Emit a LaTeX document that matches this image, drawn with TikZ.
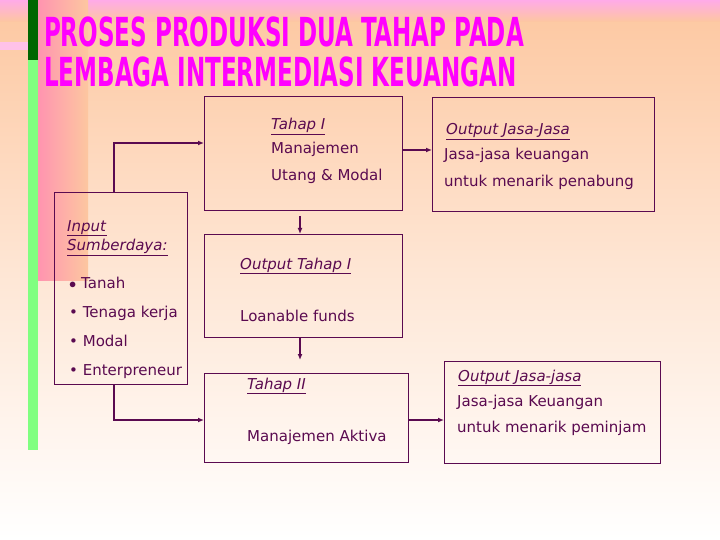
\documentclass[tikz,border=0pt]{standalone}
\usepackage{fontspec}
\setmainfont{DejaVu Sans}
\newfontfamily\titlefont{DejaVu Sans Condensed}
\usetikzlibrary{arrows.meta}
\definecolor{ink}{HTML}{5A0A50}
\definecolor{peach}{HTML}{FDC7A0}
\definecolor{tmag}{HTML}{FF00FF}
\tikzset{
  box/.style={draw=ink,line width=0.8pt},
  conn/.style={draw=ink,line width=1.4pt,-{Latex[length=6pt,width=5pt]}},
  txt/.style={anchor=base west,text=ink,font=\fontsize{15}{17}\selectfont,inner sep=0pt},
  ttl/.style={anchor=base west,text=tmag,inner sep=0pt,xscale=0.64,font=\titlefont\bfseries\fontsize{40}{44}\selectfont},
}
\newcommand{\ul}[1]{\underline{\textit{#1}}}
\begin{document}
\begin{tikzpicture}[x=1pt,y=-1pt]
\useasboundingbox (0,0) rectangle (720,540);
\shade[top color=peach,bottom color=white,middle color=peach!45] (0,0) rectangle (720,540);
\shade[top color=pink!60!magenta!60,bottom color=peach] (0,0) rectangle (720,22);
\fill[pink!70!magenta!50] (0,42) rectangle (45,50);
\shade[left color=magenta!50!orange!60,right color=peach] (30,0) rectangle (88,280);
\fill[green!40!black] (28,0) rectangle (38,60);
\fill[green!50!white] (28,60) rectangle (38,450);
% title
\node[ttl] (t1) at (44,47) {PROSES PRODUKSI DUA TAHAP PADA};
\node[ttl] (t2) at (44,87) {LEMBAGA INTERMEDIASI KEUANGAN};
% boxes
\node[box,minimum width=198pt,minimum height=114pt,anchor=north west] (th1) at (204,96) {};
\node[box,minimum width=222pt,minimum height=114pt,anchor=north west] (o1) at (432,97) {};
\node[box,minimum width=133pt,minimum height=192pt,anchor=north west] (inp) at (54,192) {};
\node[box,minimum width=198pt,minimum height=103pt,anchor=north west] (ot1) at (204,234) {};
\node[box,minimum width=204pt,minimum height=89pt,anchor=north west] (th2) at (204,373) {};
\node[box,minimum width=216pt,minimum height=102pt,anchor=north west] (o2) at (444,361) {};
% texts
\node[txt] at (271,130) {\ul{Tahap I}};
\node[txt] at (271,154) {Manajemen};
\node[txt] at (271,181) {Utang \& Modal};
\node[txt] at (446,135) {\ul{Output Jasa-Jasa}};
\node[txt] at (444,160) {Jasa-jasa keuangan};
\node[txt] at (444,187) {untuk menarik penabung};
\node[txt] at (67,231) {\ul{Input}};
\node[txt] at (67,251) {\ul{Sumberdaya:}};
\node[txt] at (69,288) {$\bullet$ Tanah};
\node[txt] at (69,317) {\textbullet\ Tenaga kerja};
\node[txt] at (69,346) {\textbullet\ Modal};
\node[txt] at (69,375) {\textbullet\ Enterpreneur};
\node[txt] at (240,269) {\ul{Output Tahap I}};
\node[txt] at (240,321) {Loanable funds};
\node[txt] at (247,389) {\ul{Tahap II}};
\node[txt] at (247,441) {Manajemen Aktiva};
\node[txt] at (458,381) {\ul{Output Jasa-jasa}};
\node[txt] at (457,406) {Jasa-jasa Keuangan};
\node[txt] at (457,432) {untuk menarik peminjam};
% connectors
\draw[conn] (inp.north west) ++(60,0) |- (th1.west |- 0,143);
\draw[conn] (inp.south west) ++(60,0) |- (th2.west |- 0,420);
\draw[conn] (th1.east |- 0,150) -- (o1.west |- 0,150);
\draw[conn] (th2.east |- 0,420) -- (o2.west |- 0,420);
\draw[conn] (300,216) -- (ot1.north -| 300,0);
\draw[conn] (ot1.south -| 300,0) -- (300,360);
\end{tikzpicture}
\end{document}
